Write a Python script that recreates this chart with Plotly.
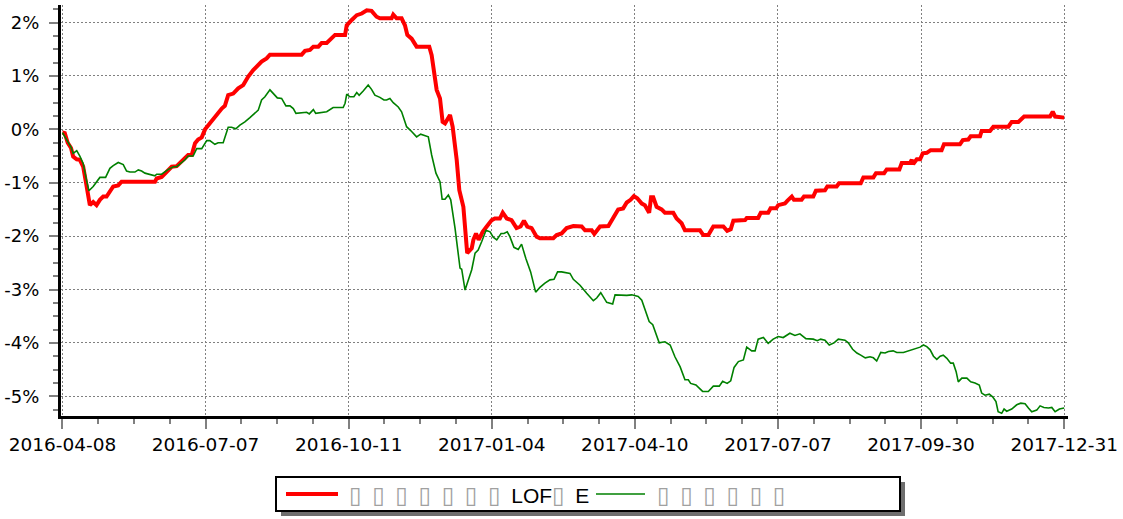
import plotly.graph_objects as go

# ---------------- data ----------------
tick_pos = [0, 60, 120, 180, 240, 300, 360, 420]
tick_dates = ["2016-04-08", "2016-07-07", "2016-10-11", "2017-01-04",
              "2017-04-10", "2017-07-07", "2017-09-30", "2017-12-31"]
y_ticks = [-5, -4, -3, -2, -1, 0, 1, 2]
y_tick_text = ["-5%", "-4%", "-3%", "-2%", "-1%", "0%", "1%", "2%"]

fund_name = "▯ ▯ ▯ ▯ ▯ ▯ ▯ LOF▯ E"
bench_name = "▯ ▯ ▯ ▯ ▯ ▯"

fund_x = [0, 1.0, 2.2, 3.6, 4.5, 6.0, 7.3, 8.7, 9.7, 10.8,
          11.5, 12.9, 14.3, 15.7, 17.1, 18.5, 19.9, 21.3, 23.4, 24.8,
          38.8, 39.5, 41.6, 43.0, 45.8, 47.9, 49.3, 51.4, 52.7, 54.2,
          55.6, 56.9, 58.4, 59.8, 61.8, 63.9, 65.3, 66.8, 68.1, 69.5,
          71.6, 73.7, 75.8, 77.9, 80.0, 82.1, 83.5, 85.6, 87.0, 100.3,
          101.7, 103.8, 105.2, 107.3, 108.7, 110.8, 112.2, 114.3, 118.5, 119.2,
          121.3, 123.4, 125.5, 127.6, 129.6, 131.7, 133.1, 138.0, 138.7, 140.1,
          142.2, 143.6, 144.6, 146.4, 148.5, 153.8, 154.8, 155.8, 156.9, 158.3,
          159.4, 160.4, 162.5, 163.6, 165.3, 166.4, 168.1, 169.7, 171.6, 172.3,
          173.4, 174.5, 176.2, 177.9, 180.0, 181.3, 183.4, 184.6, 186.3, 188.3,
          190.4, 192.1, 193.5, 194.9, 196.7, 198.8, 200.2, 205.8, 207.2, 209.3,
          211.4, 214.2, 217.7, 219.1, 221.9, 223.0, 225.4, 228.9, 230.9, 233.0,
          235.1, 236.6, 238.2, 239.6, 241.0, 242.9, 244.2, 246.0, 246.8, 247.7,
          249.1, 251.2, 252.6, 256.1, 257.5, 259.6, 261.0, 267.3, 268.7, 270.8,
          272.9, 277.1, 278.7, 280.2, 281.3, 286.2, 286.9, 291.7, 292.8, 295.9,
          296.9, 299.2, 300.1, 302.9, 303.9, 305.8, 306.7, 309.9, 310.9, 314.8,
          315.9, 319.7, 320.7, 324.6, 325.6, 334.7, 335.8, 340.0, 341.1, 344.5,
          345.6, 350.9, 351.9, 355.4, 356.1, 356.7, 358.2, 359.6, 360.7, 362.4,
          364.0, 368.6, 369.6, 376.3, 377.5, 379.8, 380.8, 384.7, 385.4, 388.9,
          390.3, 396.6, 398.0, 400.8, 403.2, 414.1, 415.2, 416.2, 420]
fund_ret = [-0.06, -0.07, -0.25, -0.35, -0.51, -0.56, -0.57, -0.70, -0.95, -1.26,
            -1.42, -1.36, -1.42, -1.32, -1.26, -1.26, -1.17, -1.07, -1.05, -0.98,
            -0.98, -0.92, -0.89, -0.82, -0.70, -0.69, -0.63, -0.54, -0.48, -0.48,
            -0.26, -0.19, -0.15, 0.00, 0.11, 0.24, 0.33, 0.39, 0.44, 0.64,
            0.67, 0.77, 0.83, 0.99, 1.11, 1.20, 1.27, 1.33, 1.40, 1.40,
            1.47, 1.49, 1.55, 1.55, 1.62, 1.62, 1.69, 1.77, 1.77, 1.95,
            2.05, 2.14, 2.17, 2.23, 2.22, 2.11, 2.08, 2.08, 2.15, 2.08,
            2.08, 1.95, 1.77, 1.70, 1.55, 1.55, 1.39, 1.08, 0.74, 0.58,
            0.14, 0.11, 0.27, 0.05, -0.57, -1.14, -1.45, -2.32, -2.23, -2.07,
            -1.95, -2.07, -1.92, -1.82, -1.70, -1.67, -1.67, -1.56, -1.67, -1.70,
            -1.85, -1.82, -1.71, -1.82, -1.85, -2.01, -2.04, -2.04, -1.98, -1.95,
            -1.85, -1.81, -1.82, -1.89, -1.89, -1.96, -1.82, -1.81, -1.67, -1.50,
            -1.48, -1.37, -1.32, -1.25, -1.29, -1.39, -1.42, -1.56, -1.27, -1.27,
            -1.45, -1.50, -1.56, -1.56, -1.67, -1.76, -1.89, -1.89, -1.98, -1.98,
            -1.82, -1.82, -1.90, -1.87, -1.71, -1.70, -1.66, -1.66, -1.56, -1.56,
            -1.48, -1.48, -1.42, -1.39, -1.34, -1.26, -1.32, -1.32, -1.26, -1.26,
            -1.15, -1.14, -1.07, -1.07, -1.01, -1.01, -0.90, -0.90, -0.82, -0.82,
            -0.75, -0.75, -0.63, -0.63, -0.57, -0.65, -0.56, -0.56, -0.45, -0.44,
            -0.39, -0.39, -0.28, -0.28, -0.20, -0.19, -0.13, -0.13, -0.03, -0.03,
            0.05, 0.05, 0.14, 0.14, 0.24, 0.24, 0.33, 0.24, 0.22]

bench_x = [0, 1.0, 2.4, 3.6, 4.5, 6.0, 7.3, 8.7, 10.1, 11.1,
           12.9, 14.3, 15.7, 18.1, 19.9, 21.3, 23.4, 25.5, 26.9, 28.3,
           30.4, 31.8, 33.2, 34.6, 36.7, 38.8, 39.5, 41.6, 44.4, 46.5,
           47.9, 50.0, 51.4, 52.7, 54.8, 56.3, 58.4, 60.5, 61.8, 63.9,
           65.3, 67.4, 68.8, 69.5, 70.9, 72.7, 74.4, 76.5, 78.6, 80.7,
           82.1, 83.5, 84.9, 87.0, 88.4, 90.1, 91.9, 93.7, 95.4, 96.8,
           97.9, 102.4, 103.5, 105.2, 106.2, 110.8, 113.5, 117.7, 118.5, 119.2,
           120.5, 122.2, 123.4, 124.4, 126.1, 128.2, 129.6, 131.0, 133.1, 134.8,
           135.9, 137.3, 138.7, 140.8, 142.2, 144.3, 146.4, 148.5, 150.2, 152.0,
           153.4, 154.8, 156.6, 158.3, 159.2, 160.4, 161.8, 162.8, 164.6, 166.7,
           167.4, 168.8, 170.2, 171.6, 173.0, 174.3, 175.8, 177.6, 179.3, 180.6,
           182.1, 183.9, 185.1, 186.5, 187.6, 189.3, 191.1, 192.5, 194.3, 196.3,
           198.4, 200.2, 202.3, 204.4, 206.1, 207.6, 209.3, 212.8, 214.2, 217.0,
           219.8, 222.6, 224.0, 225.7, 228.2, 230.7, 231.7, 235.1, 236.6, 238.7,
           241.4, 242.9, 245.0, 246.0, 247.5, 250.2, 252.6, 254.8, 256.8, 259.0,
           261.0, 262.4, 263.4, 265.6, 268.4, 270.8, 272.9, 275.4, 276.8, 278.7,
           280.2, 281.6, 283.4, 285.5, 286.9, 289.0, 290.4, 291.7, 293.9, 295.9,
           298.0, 300.1, 302.2, 305.0, 307.1, 309.2, 311.7, 314.8, 316.5, 317.9,
           319.7, 321.5, 323.5, 325.3, 328.1, 329.5, 331.3, 333.1, 334.7, 336.6,
           338.6, 340.0, 341.4, 343.1, 344.9, 346.3, 348.3, 349.8, 352.6, 354.7,
           357.5, 359.6, 361.0, 362.4, 363.8, 365.2, 366.6, 368.0, 369.3, 370.8,
           372.4, 373.5, 374.7, 375.6, 377.1, 379.2, 380.8, 382.6, 384.4, 385.4,
           386.8, 388.6, 390.0, 391.4, 392.3, 393.8, 394.8, 395.9, 398.0, 400.1,
           401.8, 403.6, 405.0, 406.4, 408.5, 409.9, 411.5, 413.4, 414.8, 416.2,
           418.0, 420]
bench_ret = [-0.06, -0.14, -0.26, -0.33, -0.45, -0.40, -0.50, -0.64, -0.95, -1.15,
             -1.07, -0.98, -0.90, -0.90, -0.73, -0.68, -0.62, -0.66, -0.78, -0.80,
             -0.80, -0.76, -0.78, -0.82, -0.84, -0.87, -0.84, -0.84, -0.75, -0.70,
             -0.70, -0.63, -0.57, -0.50, -0.50, -0.36, -0.36, -0.21, -0.21, -0.28,
             -0.25, -0.25, -0.07, 0.04, 0.04, 0.01, 0.08, 0.14, 0.22, 0.31,
             0.36, 0.55, 0.61, 0.74, 0.67, 0.59, 0.58, 0.44, 0.44, 0.39,
             0.30, 0.32, 0.29, 0.37, 0.30, 0.33, 0.41, 0.41, 0.49, 0.66,
             0.61, 0.61, 0.69, 0.64, 0.72, 0.83, 0.75, 0.64, 0.60, 0.55,
             0.55, 0.58, 0.50, 0.42, 0.33, 0.05, -0.04, -0.14, -0.09, -0.11,
             -0.14, -0.48, -0.82, -0.98, -1.31, -1.31, -1.23, -1.32, -1.85, -2.60,
             -2.62, -3.01, -2.82, -2.63, -2.32, -2.26, -2.10, -1.89, -1.92, -2.02,
             -2.07, -1.95, -1.95, -1.92, -2.01, -2.21, -2.25, -2.15, -2.42, -2.67,
             -3.05, -2.96, -2.88, -2.82, -2.81, -2.67, -2.67, -2.70, -2.81, -2.92,
             -3.07, -3.21, -3.16, -3.06, -3.24, -3.27, -3.10, -3.11, -3.11, -3.10,
             -3.13, -3.20, -3.45, -3.60, -3.66, -4.00, -3.98, -4.04, -4.26, -4.45,
             -4.69, -4.69, -4.76, -4.79, -4.91, -4.91, -4.81, -4.81, -4.72, -4.76,
             -4.71, -4.46, -4.35, -4.32, -4.08, -4.15, -4.15, -3.93, -3.90, -4.01,
             -3.93, -3.88, -3.90, -3.82, -3.86, -3.83, -3.92, -3.93, -3.96, -3.93,
             -3.95, -4.04, -4.00, -3.93, -3.95, -4.00, -4.12, -4.19, -4.23, -4.28,
             -4.26, -4.28, -4.34, -4.18, -4.19, -4.16, -4.15, -4.18, -4.18, -4.15,
             -4.12, -4.08, -4.04, -4.07, -4.13, -4.25, -4.31, -4.25, -4.23, -4.29,
             -4.38, -4.38, -4.54, -4.73, -4.66, -4.66, -4.73, -4.75, -4.79, -4.94,
             -4.98, -4.96, -5.01, -5.10, -5.29, -5.32, -5.24, -5.28, -5.24, -5.16,
             -5.13, -5.14, -5.22, -5.29, -5.26, -5.18, -5.21, -5.22, -5.21, -5.29,
             -5.24, -5.22]

# ---------------- layout geometry ----------------
W, H = 1123, 519
ML, MR, MT, MB = 61, 55, 5, 103
PW, PH = W - ML - MR, H - MT - MB


def px(xp):
    return (xp - ML) / PW


def py(yp):
    return (MT + PH - yp) / PH


fig = go.Figure()
fig.add_trace(go.Scatter(x=fund_x, y=fund_ret, mode="lines", name=fund_name,
                         line=dict(color="#ff0000", width=4), showlegend=False))
fig.add_trace(go.Scatter(x=bench_x, y=bench_ret, mode="lines", name=bench_name,
                         line=dict(color="#008000", width=1.6), showlegend=False))

grid = dict(showgrid=True, gridcolor="#808080", gridwidth=1, griddash="2px,2px",
            zeroline=False, showline=True, linecolor="black", linewidth=3,
            ticks="outside", tickcolor="#808080", tickwidth=2)

fig.update_xaxes(range=[-0.6, 421.6], tickmode="array", tickvals=tick_pos,
                 ticktext=tick_dates, ticklen=10,
                 tickfont=dict(family="DejaVu Sans", size=18.5, color="black"),
                 minor=dict(tick0=0, dtick=15, ticks="outside", ticklen=5,
                            tickcolor="#808080", tickwidth=2, showgrid=False),
                 automargin=False, **grid)
fig.update_yaxes(range=[-5.37, 2.33], tickmode="array", tickvals=y_ticks,
                 ticktext=y_tick_text, ticklen=9,
                 tickfont=dict(family="DejaVu Sans", size=18, color="black"),
                 ticklabelstandoff=6,
                 minor=dict(tick0=0, dtick=0.25, ticks="outside", ticklen=5,
                            tickcolor="#808080", tickwidth=2, showgrid=False),
                 automargin=False, **grid)

# legend frame (drawn by hand to match the boxed legend with shadow)
shapes = [
    dict(type="rect", xref="paper", yref="paper", x0=px(281), x1=px(905),
         y0=py(482), y1=py(516), fillcolor="#6e6e6e", line=dict(width=0)),
    dict(type="rect", xref="paper", yref="paper", x0=px(276), x1=px(900),
         y0=py(477), y1=py(511), fillcolor="white",
         line=dict(color="black", width=2)),
    dict(type="line", xref="paper", yref="paper", x0=px(286), x1=px(338),
         y0=py(494), y1=py(494), line=dict(color="#ff0000", width=4)),
    dict(type="line", xref="paper", yref="paper", x0=px(596), x1=px(645),
         y0=py(494), y1=py(494), line=dict(color="#008000", width=1.6)),
]


def tofu_text(s):
    return s.replace(" ", "\u2002").replace(
        "▯", '<span style="color:#a0a0a0;font-size:23px">▯</span>')


legend_font = dict(family="Liberation Sans, DejaVu Sans", size=21, color="black")
annotations = [
    dict(text=tofu_text(fund_name), xref="paper", yref="paper", x=px(347),
         y=py(495), xanchor="left", yanchor="middle", showarrow=False,
         font=legend_font),
    dict(text=tofu_text(bench_name), xref="paper", yref="paper", x=px(655),
         y=py(495), xanchor="left", yanchor="middle", showarrow=False,
         font=legend_font),
]

fig.update_layout(width=W, height=H, margin=dict(l=ML, r=MR, t=MT, b=MB, pad=0),
                  paper_bgcolor="white", plot_bgcolor="white",
                  shapes=shapes, annotations=annotations, showlegend=False)

fig.write_html("out.html", config={"displayModeBar": False},
               post_script="document.body.style.margin='0px';")
